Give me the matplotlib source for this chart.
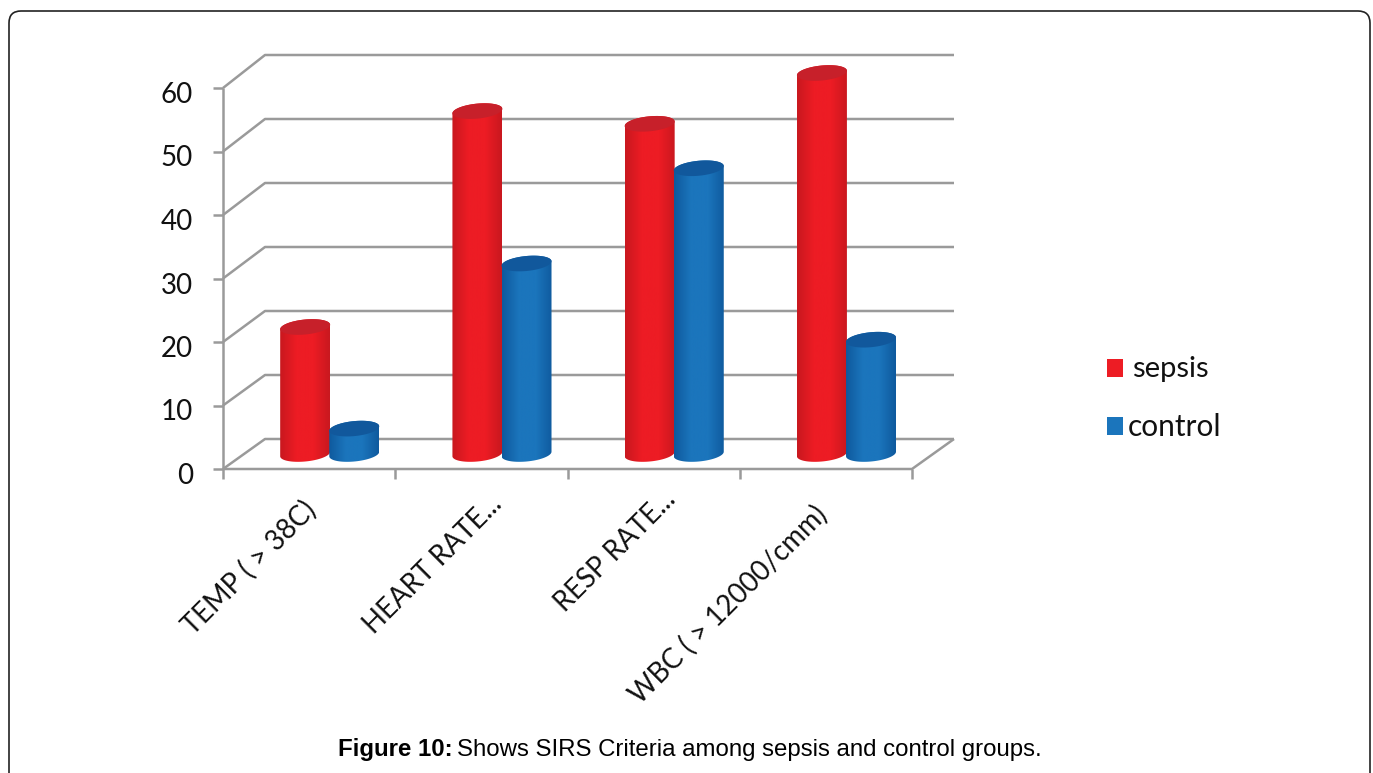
import numpy as np
import matplotlib
matplotlib.use('Agg')
import matplotlib.pyplot as plt
from matplotlib.patches import FancyBboxPatch, Polygon, Rectangle
from matplotlib.colors import LinearSegmentedColormap

categories = ['TEMP ( > 38C)', 'HEART RATE...', 'RESP RATE...', 'WBC ( > 12000/cmm)']
sepsis = [20, 54, 52, 60]
control = [4, 30, 45, 18]
y_ticks = [0, 10, 20, 30, 40, 50, 60]

W, H = 1373, 773
GRID = '#9a9a9a'
LABEL_FONT = ['Lato', 'DejaVu Sans']

fig = plt.figure(figsize=(W / 100, H / 100), dpi=100)

# 覆盖整张图的坐标系，用像素定位边框、图例和标题
over = fig.add_axes([0, 0, 1, 1])
over.set_xlim(0, W)
over.set_ylim(H, 0)
over.axis('off')
over.add_patch(FancyBboxPatch((9, 11), 1361, 800, boxstyle='round,pad=0,rounding_size=12',
                              fc='white', ec='#222222', lw=1.2))

# 主坐标系：前平面，x为类别，y为数值
left, right, y0, y60 = 223, 912, 469, 88
ax = fig.add_axes([left / W, 1 - y0 / H, (right - left) / W, (y0 - y60) / H])
ax.axis('off')
ax.patch.set_alpha(0)
px_x = (right - left) / len(categories)
px_y = (y0 - y60) / 60
depth_x = 42 / px_x
depth_y = 30 / px_y
back_scale = 384 / 381  # 背面比前面略高


def line(xs, ys, lw=1.8):
    ax.plot(xs, ys, color=GRID, lw=lw, clip_on=False, solid_capstyle='butt', zorder=1)


# 背面网格线和左侧斜线
for v in y_ticks:
    back = depth_y + v * back_scale
    line([0, depth_x, len(categories) + depth_x], [v, back, back])
    line([-10 / px_x, 0], [v, v])
line([0, 0], [0, 60])
line([0, len(categories), len(categories) + depth_x], [0, 0, depth_y])
for i in range(len(categories) + 1):
    line([i, i], [0, -10 / px_y], lw=1.8)

for v in y_ticks:
    ax.text(-30 / px_x, v - 7 / px_y, str(v), ha='right', va='center', fontsize=20,
            family=LABEL_FONT, color='#111111')

# 斜标签的右上端，各标签单独偏移
label_dx = [-93, -79, -77, -99]
label_dy = [-27, -22, -17, -32]
for i, c in enumerate(categories):
    ax.text(i + 1 + label_dx[i] / px_x, label_dy[i] / px_y, c, rotation=45, rotation_mode='anchor',
            ha='right', va='top', fontsize=19.8, family=LABEL_FONT, color='#111111', clip_on=False)

# 圆柱
bar_w = 50 / px_x
rx = bar_w / 2
ry = 7.5 / px_y
tilt = 0.09 * px_x / px_y
t = np.linspace(0, 2 * np.pi, 80)


def cylinder(cx, value, edge, mid, top):
    base = depth_y / 2
    tv = base + value
    ex = rx * np.cos(t)
    ey = ry * np.sin(t) + tilt * ex
    right_half = t <= np.pi
    # 轮廓：上椭圆的上半部分加下椭圆的下半部分
    upper = np.column_stack([cx + ex[right_half], tv + ey[right_half]])
    lower = np.column_stack([cx + ex[~right_half], base + ey[~right_half]])
    body = Polygon(np.vstack([upper, lower]), closed=True, fc='none', ec='none', zorder=3, clip_on=False)
    ax.add_patch(body)
    cmap = LinearSegmentedColormap.from_list('c', [edge, mid, mid, edge])
    im = ax.imshow(np.linspace(0, 1, 64).reshape(1, -1), cmap=cmap, aspect='auto',
                   extent=[cx - rx, cx + rx, base - 3 * ry, tv + 3 * ry], zorder=3)
    im.set_clip_box(fig.bbox)
    im.set_clip_path(body)
    ax.add_patch(Polygon(np.column_stack([cx + ex, tv + ey]), closed=True, fc=top, ec='none',
                         zorder=4, clip_on=False))


for i in range(len(categories)):
    cylinder(i + 0.477, sepsis[i], '#c9181f', '#ed1c24', '#c7202a')
    cylinder(i + 0.762, control[i], '#0f5a9e', '#1b75bc', '#11589c')

ax.set_xlim(0, len(categories))
ax.set_ylim(0, 60)

# 图例
over.add_patch(Rectangle((1107, 359), 16, 18, fc='#ed1c24', ec='none'))
over.add_patch(Rectangle((1107, 417), 16, 18, fc='#1b75bc', ec='none'))
over.text(1132, 369, 'sepsis', ha='left', va='center', fontsize=21, family=LABEL_FONT, color='#111111')
over.text(1128, 427, 'control', ha='left', va='center', fontsize=21.5, family=LABEL_FONT, color='#111111')

# 标题
over.text(338, 756, 'Figure 10:', ha='left', va='baseline', fontsize=17.3, fontweight='bold',
          family='Liberation Sans', color='black')
over.text(1042, 756, 'Shows SIRS Criteria among sepsis and control groups.', ha='right', va='baseline',
          fontsize=17.3, family='Liberation Sans', color='black')

fig.savefig('out.png', dpi=100, facecolor='white')
